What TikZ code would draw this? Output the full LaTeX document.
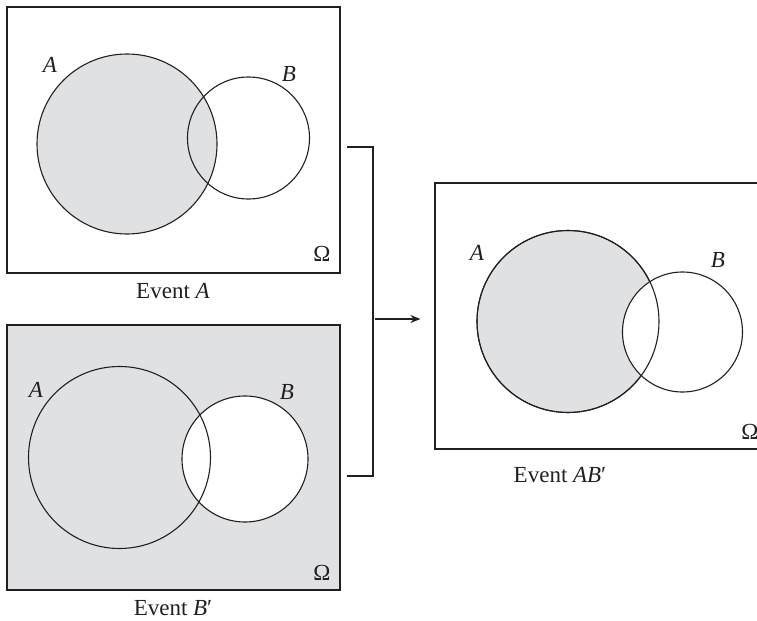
\documentclass[tikz,border=0pt]{standalone}
\usepackage{fontspec}
\setmainfont{Liberation Serif}
\usepackage{tikz}
\usetikzlibrary{arrows.meta, positioning}
\definecolor{shade}{RGB}{224,225,227}
\definecolor{ink}{RGB}{35,31,32}
\tikzstyle{omega} = [rectangle, draw = ink, line width = 0.55pt,
  minimum width = 166.5pt, minimum height = 133pt, inner sep = 0]
\tikzstyle{set} = [
  circle, inner sep = 0,
  draw = ink, line width = 0.55pt
]
\tikzstyle{lbl} = [font = \fontsize{11.5}{13}\selectfont, text = ink, inner sep = 0]

\begin{document}
\begin{tikzpicture}[x = 0.5pt, y = -0.5pt]
      \useasboundingbox (0, 0) rectangle (757, 621);
      % event A
      \node [omega] (omega-1) at (173.5, 140) {};
      \node [set, fill = shade, minimum size = 90pt] (a-1) at (127, 144) {};
      \node [set, minimum size = 61pt] (b-1) at (248.5, 138) {};
      \node [lbl] (a-1-name) at (50, 65) {\textit{A}};
      \node [lbl] (b-1-name) at (289, 74) {\textit{B}};
      \node [lbl] (omega-1-name) at (322, 254) {Ω};
      \node [lbl] (cap-1) at (173, 291) {Event \textit{A}};
      % event B'
      \node [omega, fill = shade, minimum height = 132.5pt] (omega-2) at (173.5, 457.5) {};
      \node [set, fill = white, minimum size = 63pt] (b-2) at (245, 459) {};
      \node [set, minimum size = 91pt] (a-2) at (119.5, 457.5) {};
      \node [lbl] (a-2-name) at (36, 390) {\textit{A}};
      \node [lbl] (b-2-name) at (287, 392) {\textit{B}};
      \node [lbl] (omega-2-name) at (322, 573) {Ω};
      \node [lbl] (cap-2) at (173, 608) {Event \textit{B}′};
      % event AB'
      \node [omega] (omega-3) at (601.5, 316) {};
      \node [set, fill = shade, minimum size = 91pt] (a-3) at (568, 321.5) {};
      \node [set, fill = white, minimum size = 60pt] (b-3) at (682.5, 332) {};
      \node [set, minimum size = 91pt] (a-3-rim) at (a-3) {};
      \node [lbl] (a-3-name) at (477, 253) {\textit{A}};
      \node [lbl] (b-3-name) at (718, 260) {\textit{B}};
      \node [lbl] (omega-3-name) at (750, 432) {Ω};
      \node [lbl] (cap-3) at (560, 475) {Event \textit{AB}′};

      \coordinate (br-top) at (347, 147);
      \coordinate (br-bot) at (347, 476);
      \coordinate (br-mid) at (373, 319);
      \draw [ink, line width = 0.55pt] (br-top) -| (br-mid) |- (br-bot);
      \draw [ink, line width = 0.55pt, -{Stealth[length = 5pt, width = 4pt]},
        shorten < = 1pt, shorten > = 7pt] (br-mid) -- (omega-3.west |- br-mid);
    \end{tikzpicture}
\end{document}
